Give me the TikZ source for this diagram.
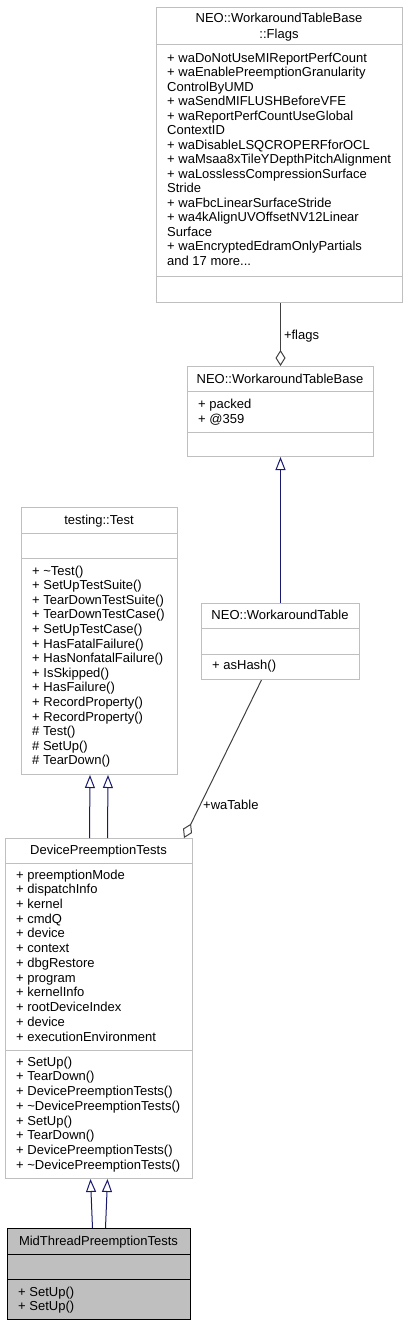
\documentclass[tikz,border=0pt]{standalone}
\usepackage{fontspec}
\setmainfont{Liberation Sans}
\usetikzlibrary{arrows.meta,calc}
\newcommand\dfont{\fontsize{13pt}{15pt}\selectfont}
\definecolor{boxgray}{HTML}{BFBFBF}
\definecolor{midblue}{HTML}{191970}
\definecolor{aggray}{HTML}{404040}
\begin{document}
\begin{tikzpicture}[x=1pt,y=-1pt,
  box/.style={draw=boxgray, line width=1pt, fill=white, rectangle, inner sep=0, anchor=north west},
  sel/.style={draw=black, line width=1pt, fill=boxgray, rectangle, inner sep=0, anchor=north west},
  sep/.style={draw=boxgray, line width=1pt},
  selsep/.style={draw=black, line width=1pt},
  txt/.style={anchor=base west, inner sep=0, font=\dfont},
  ttl/.style={anchor=base, inner sep=0, font=\dfont},
  inh/.style={draw=midblue, line width=1pt, -{Triangle[open,length=13pt,width=10pt]}},
  agg/.style={draw=aggray, line width=1pt, -{Diamond[open,length=16pt,width=10pt]}},
  lbl/.style={anchor=base west, inner sep=0, font=\dfont}]
\useasboundingbox (0,0) rectangle (409,1325);
% Flags
\node[box, minimum width=246pt, minimum height=295pt] (flags) at (156,7) {};
\draw[sep] (156,44) -- (402,44);
\draw[sep] (156,276) -- (402,276);
\node[ttl] (flagsT1) at (279,23) {NEO::WorkaroundTableBase};
\node[ttl] (flagsT2) at (279,38) {::Flags};
\foreach \t [count=\i from 0] in {+ waDoNotUseMIReportPerfCount,
  + waEnablePreemptionGranularity, ControlByUMD, + waSendMIFLUSHBeforeVFE,
  + waReportPerfCountUseGlobal, ContextID, + waDisableLSQCROPERFforOCL,
  + waMsaa8xTileYDepthPitchAlignment, + waLosslessCompressionSurface, Stride,
  + waFbcLinearSurfaceStride, + wa4kAlignUVOffsetNV12Linear, Surface,
  + waEncryptedEdramOnlyPartials}
  \node[txt] (fl\i) at (167,{62+14.5*\i}) {\t};
\node[txt] (fl14) at (167,{62+14.5*14}) {and 17 more...};
% WorkaroundTableBase
\node[box, minimum width=186pt, minimum height=90pt] (wtb) at (187,366) {};
\draw[sep] (187,391) -- (373,391);
\draw[sep] (187,432) -- (373,432);
\node[ttl] (wtbT) at (280,383) {NEO::WorkaroundTableBase};
\node[txt] (wtb1) at (198,408) {+ packed};
\node[txt] (wtb2) at (198,423) {+ @359};
% testing::Test
\node[box, minimum width=156pt, minimum height=267pt] (test) at (21,507) {};
\draw[sep] (21,533) -- (177,533);
\draw[sep] (21,558) -- (177,558);
\node[ttl] (testT) at (99,524) {testing::Test};
\foreach \t [count=\i from 0] in {+ \textasciitilde Test(), + SetUpTestSuite(), + TearDownTestSuite(),
  + TearDownTestCase(), + SetUpTestCase(), + HasFatalFailure(), + HasNonfatalFailure(),
  + IsSkipped(), + HasFailure(), + RecordProperty(), + RecordProperty(), \# Test(),
  \# SetUp(), \# TearDown()}
  \node[txt] (ts\i) at (32,{575+14.6*\i}) {\t};
% WorkaroundTable
\node[box, minimum width=158pt, minimum height=76pt] (wt) at (201,603) {};
\draw[sep] (201,628) -- (359,628);
\draw[sep] (201,654) -- (359,654);
\node[ttl] (wtT) at (280,619) {NEO::WorkaroundTable};
\node[txt] (wt1) at (212,669) {+ asHash()};
% DevicePreemptionTests
\node[box, minimum width=187pt, minimum height=340pt] (dpt) at (5,838) {};
\draw[sep] (5,863) -- (192,863);
\draw[sep] (5,1050) -- (192,1050);
\node[ttl] (dptT) at (98.5,854) {DevicePreemptionTests};
\foreach \t [count=\i from 0] in {+ preemptionMode, + dispatchInfo, + kernel, + cmdQ,
  + device, + context, + dbgRestore, + program, + kernelInfo, + rootDeviceIndex,
  + device, + executionEnvironment}
  \node[txt] (da\i) at (16,{879+14.73*\i}) {\t};
\foreach \t [count=\i from 0] in {+ SetUp(), + TearDown(), + DevicePreemptionTests(),
  + \textasciitilde DevicePreemptionTests(), + SetUp(), + TearDown(), + DevicePreemptionTests(),
  + \textasciitilde DevicePreemptionTests()}
  \node[txt] (dm\i) at (16,{1066+14.76*\i}) {\t};
% MidThreadPreemptionTests
\node[sel, minimum width=183pt, minimum height=91pt] (mid) at (7,1228) {};
\draw[selsep] (7,1254) -- (190,1254);
\draw[selsep] (7,1279) -- (190,1279);
\node[ttl] (midT) at (98.5,1245) {MidThreadPreemptionTests};
\node[txt] (mid1) at (18,1296) {+ SetUp()};
\node[txt] (mid2) at (18,1310) {+ SetUp()};
% connectors
\draw[agg] (flags.south -| wtb.north) -- (wtb.north) node[pos=0.5, lbl, xshift=3pt, yshift=-4.5pt] (flagsL) {+flags};
\draw[inh] (wt.north) -- (wtb.south);
\draw[inh] ([xshift=-9.5pt]dpt.north) -- ([xshift=-9.5pt]test.south);
\draw[inh] ([xshift=8.5pt]dpt.north) -- ([xshift=8.5pt]test.south);
\draw[agg] ([xshift=-19pt]wt.south) -- ([xshift=85pt]dpt.north);
\node[lbl] (waL) at (203,809) {+waTable};
\draw[inh] ([xshift=-6.5pt]mid.north) -- ([xshift=-8.5pt]dpt.south);
\draw[inh] ([xshift=6.5pt]mid.north) -- ([xshift=8.5pt]dpt.south);
\end{tikzpicture}
\end{document}
